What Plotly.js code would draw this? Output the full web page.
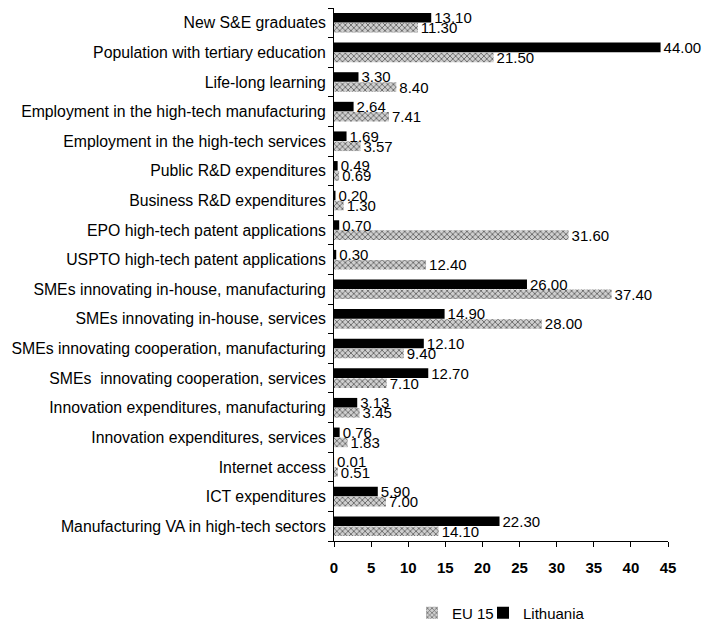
<!DOCTYPE html>
<html>
<head>
<meta charset="utf-8">
<script src="https://cdn.plot.ly/plotly-3.0.1.min.js"></script>
<style>html,body{margin:0;padding:0;background:#fff;}#chart{width:709px;height:622px;}</style>
</head>
<body>
<div id="chart"></div>
<script>
var categories = [
  "New S&E graduates",
  "Population with tertiary education",
  "Life-long learning",
  "Employment in the high-tech manufacturing",
  "Employment in the high-tech services",
  "Public R&D expenditures",
  "Business R&D expenditures",
  "EPO high-tech patent applications",
  "USPTO high-tech patent applications",
  "SMEs innovating in-house, manufacturing",
  "SMEs innovating in-house, services",
  "SMEs innovating cooperation, manufacturing",
  "SMEs  innovating cooperation, services",
  "Innovation expenditures, manufacturing",
  "Innovation expenditures, services",
  "Internet access",
  "ICT expenditures",
  "Manufacturing VA in high-tech sectors"
];
var lithuania = [13.10, 44.00, 3.30, 2.64, 1.69, 0.49, 0.20, 0.70, 0.30, 26.00, 14.90, 12.10, 12.70, 3.13, 0.76, 0.01, 5.90, 22.30];
var eu15 = [11.30, 21.50, 8.40, 7.41, 3.57, 0.69, 1.30, 31.60, 12.40, 37.40, 28.00, 9.40, 7.10, 3.45, 1.83, 0.51, 7.00, 14.10];
var xTicks = [0, 5, 10, 15, 20, 25, 30, 35, 40, 45];

var fontFam = "Liberation Sans, Arial, sans-serif";
function fmt(v){ return v.toFixed(2); }

var traces = [
  {
    type: "bar", orientation: "h", name: "EU 15", legend: "legend",
    y: categories, x: eu15,
    text: eu15.map(fmt), textposition: "outside", cliponaxis: false,
    constraintext: "none",
    textfont: {family: fontFam, size: 15, color: "#000"},
    marker: {
      color: "#c8c8c8",
      pattern: {shape: "x", size: 4, solidity: 0.35, fgcolor: "#555", bgcolor: "#cfcfcf"},
      line: {width: 0}
    }
  },
  {
    type: "bar", orientation: "h", name: "Lithuania", legend: "legend2",
    y: categories, x: lithuania,
    text: lithuania.map(fmt), textposition: "outside", cliponaxis: false,
    constraintext: "none",
    textfont: {family: fontFam, size: 15, color: "#000"},
    marker: {color: "#000", line: {width: 0}}
  }
];

var legendBase = {
  orientation: "h",
  xref: "container", yref: "container",
  xanchor: "left",
  y: 9 / 622, yanchor: "middle",
  font: {family: fontFam, size: 15, color: "#000"},
  bgcolor: "rgba(0,0,0,0)",
  itemwidth: 30
};

var layout = {
  width: 709, height: 622,
  margin: {l: 334, r: 41, t: 8, b: 81, autoexpand: false},
  paper_bgcolor: "#fff", plot_bgcolor: "#fff",
  barmode: "group", bargap: 0.32, bargroupgap: 0.05,
  font: {family: fontFam, size: 15, color: "#000"},
  showlegend: true,
  legend: Object.assign({}, legendBase, {x: 412 / 709}),
  legend2: Object.assign({}, legendBase, {x: 483 / 709}),
  xaxis: {
    range: [0, 45], tickvals: xTicks, ticktext: xTicks.map(String),
    showgrid: false, zeroline: false,
    showline: true, linecolor: "#000", linewidth: 1,
    ticks: "outside", ticklen: 5, tickcolor: "#000",
    ticklabelstandoff: 8,
    tickfont: {family: fontFam, size: 15, color: "#000", weight: "bold"},
    fixedrange: true
  },
  yaxis: {
    type: "category",
    categoryorder: "array", categoryarray: categories.slice().reverse(),
    showgrid: false, zeroline: false,
    showline: true, linecolor: "#000", linewidth: 1,
    ticks: "outside", ticklen: 5, tickcolor: "#000", tickson: "boundaries",
    ticklabelstandoff: 4,
    tickfont: {family: fontFam, size: 15.8, color: "#000"},
    fixedrange: true
  }
};

Plotly.newPlot("chart", traces, layout, {displayModeBar: false, staticPlot: true});
</script>
</body>
</html>
